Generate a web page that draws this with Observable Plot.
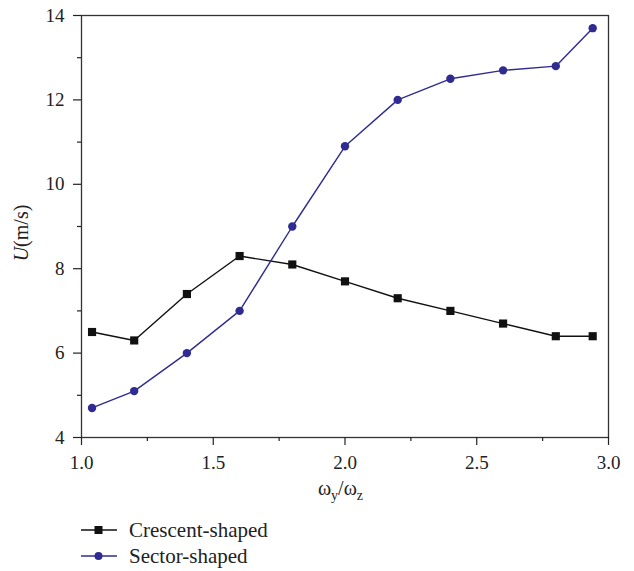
<!DOCTYPE html>
<html>
<head>
<meta charset="utf-8">
<script src="https://cdn.jsdelivr.net/npm/d3@7"></script>
<script src="https://cdn.jsdelivr.net/npm/@observablehq/plot@0.6"></script>
<style>
  body { margin: 0; background: #fff; font-family: "Liberation Serif", "DejaVu Serif", serif; }
  #chart svg { display: block; }
  .legend { margin-left: 81px; margin-top: 12px; font-size: 21px; color: #222; }
  .legend .row { display: flex; align-items: center; height: 26px; }
  .legend svg { margin-right: 12px; }
</style>
</head>
<body>
<div id="chart"></div>
<script>
const ratio = [1.04, 1.2, 1.4, 1.6, 1.8, 2.0, 2.2, 2.4, 2.6, 2.8, 2.94];
const crescent = [6.5, 6.3, 7.4, 8.3, 8.1, 7.7, 7.3, 7.0, 6.7, 6.4, 6.4];
const sector = [4.7, 5.1, 6.0, 7.0, 9.0, 10.9, 12.0, 12.5, 12.7, 12.8, 13.7];
const seriesNames = ["Crescent-shaped", "Sector-shaped"];
const seriesColors = ["#111111", "#2f2b91"];
const xMajor = [1.0, 1.5, 2.0, 2.5, 3.0];
const xMinor = [1.25, 1.75, 2.25, 2.75];
const yMajor = [4, 6, 8, 10, 12, 14];
const yMinor = [5, 7, 9, 11, 13];

const crescentData = ratio.map((x, i) => ({x, y: crescent[i]}));
const sectorData = ratio.map((x, i) => ({x, y: sector[i]}));

const W = 634, H = 505, mL = 81, mR = 26, mT = 15, mB = 68;

const chart = Plot.plot({
  width: W, height: H,
  marginLeft: mL, marginRight: mR, marginTop: mT, marginBottom: mB,
  style: {fontFamily: "'Liberation Serif', serif", fontSize: "19px", color: "#222", background: "#fff"},
  x: {domain: [1, 3]},
  y: {domain: [4, 14]},
  marks: [
    Plot.frame({stroke: "#333", strokeWidth: 1.3}),
    Plot.axisX({ticks: xMajor, tickSize: 8, tickPadding: 10, tickFormat: d => d.toFixed(1), label: null, fontSize: 19, stroke: "#222", strokeWidth: 1.2}),
    Plot.axisX({ticks: xMinor, tickSize: 4, tickFormat: () => "", label: null, stroke: "#222", strokeWidth: 1.2}),
    Plot.axisY({ticks: yMajor, tickSize: 8, tickPadding: 9, tickFormat: d => String(d), label: null, fontSize: 19, stroke: "#222", strokeWidth: 1.2}),
    Plot.axisY({ticks: yMinor, tickSize: 4, tickFormat: () => "", label: null, stroke: "#222", strokeWidth: 1.2}),
    Plot.line(crescentData, {x: "x", y: "y", stroke: seriesColors[0], strokeWidth: 1.4}),
    Plot.dot(crescentData, {x: "x", y: "y", symbol: "square", r: 4.6, fill: seriesColors[0], stroke: "none"}),
    Plot.line(sectorData, {x: "x", y: "y", stroke: seriesColors[1], strokeWidth: 1.4}),
    Plot.dot(sectorData, {x: "x", y: "y", r: 4.2, fill: seriesColors[1], stroke: "none"})
  ]
});

document.getElementById("chart").appendChild(chart);

// Axis titles with italic/subscripts
const svg = d3.select(chart);
const xt = svg.append("text")
  .attr("x", mL + (W - mL - mR) / 2 - 4)
  .attr("y", 495)
  .attr("text-anchor", "middle")
  .attr("font-size", 20)
  .attr("fill", "#222");
xt.append("tspan").text("ω");
xt.append("tspan").attr("font-size", 14).attr("dy", 5).text("y");
xt.append("tspan").attr("dy", -5).text("/ω");
xt.append("tspan").attr("font-size", 14).attr("dy", 5).text("z");

const yt = svg.append("text")
  .attr("transform", `translate(28, ${mT + (H - mT - mB) / 2 + 7}) rotate(-90)`)
  .attr("text-anchor", "middle")
  .attr("font-size", 20)
  .attr("fill", "#222");
yt.append("tspan").attr("font-style", "italic").text("U");
yt.append("tspan").text("(m/s)");

// Legend below the chart
const legend = d3.select("body").append("div").attr("class", "legend");
seriesNames.forEach((name, i) => {
  const row = legend.append("div").attr("class", "row");
  const s = row.append("svg").attr("width", 36).attr("height", 16);
  s.append("line").attr("x1", 0).attr("x2", 36).attr("y1", 8).attr("y2", 8)
    .attr("stroke", seriesColors[i]).attr("stroke-width", 1.4);
  if (i === 0) {
    s.append("rect").attr("x", 13.5).attr("y", 4).attr("width", 8).attr("height", 8).attr("fill", seriesColors[i]);
  } else {
    s.append("circle").attr("cx", 17.5).attr("cy", 8).attr("r", 4).attr("fill", seriesColors[i]);
  }
  row.append("span").text(name);
});
</script>
</body>
</html>
